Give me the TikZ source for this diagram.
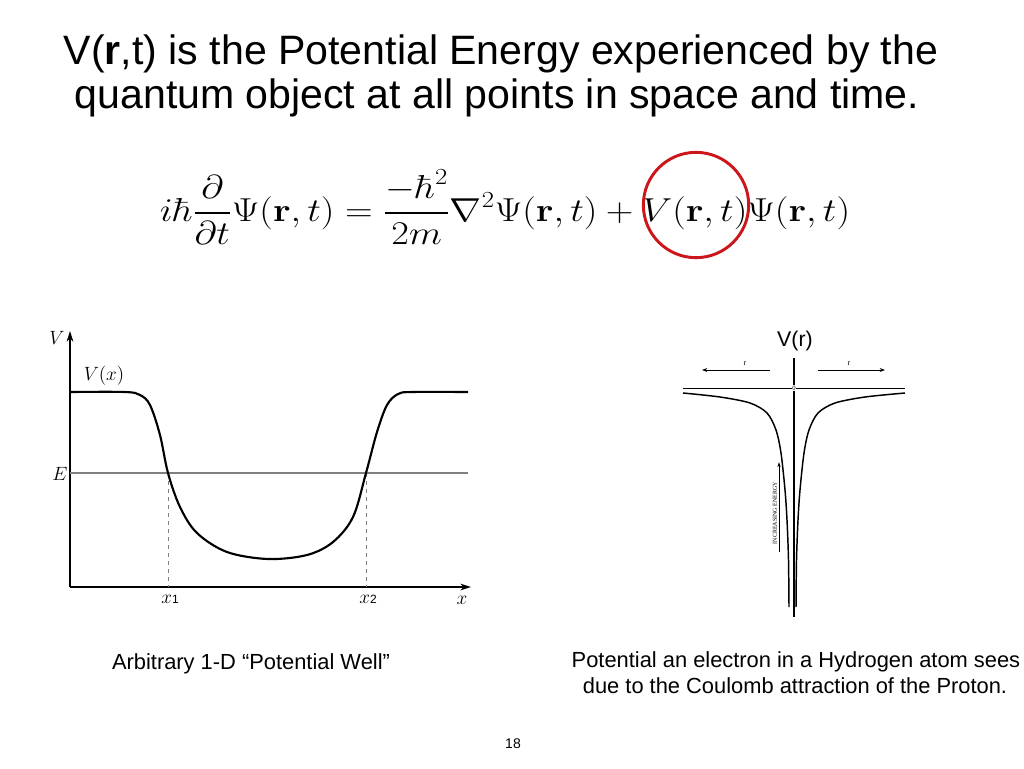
\documentclass[tikz,border=0pt]{standalone}
\usepackage[no-math]{fontspec}
\setmainfont{Liberation Sans}
\newfontfamily\serifsmall{Liberation Serif}
\usepackage{amsmath}
\usetikzlibrary{arrows.meta}
\DeclareMathSizes{33}{33}{19}{14}

\definecolor{ringred}{RGB}{204,22,28}

\begin{document}
\begin{tikzpicture}
[x=0.75pt, y=-0.75pt,
 every node/.style={inner sep=0pt},
 titletext/.style={font=\fontsize{30.8}{34}\selectfont, anchor=base},
 captiontext/.style={font=\fontsize{16.4}{19}\selectfont, anchor=base},
 axisline/.style={line width=1pt, -{Stealth[length=8pt,width=5pt]}},
 wellcurve/.style={line width=1.6pt, line join=round},
 plotlabel/.style={font=\fontsize{14}{16}\selectfont}]
\useasboundingbox (0,0) rectangle (1024,768);

% title and equation
\node (title1) [titletext] at (501,64) {V(\textbf{r},t) is the Potential Energy experienced by the};
\node (title2) [titletext] at (497,108) {quantum object at all points in space and time.};
\node (eq) at (505,207) {\scalebox{1.155}[1]{\fontsize{33}{36}\selectfont
  $\displaystyle i\hbar\frac{\partial}{\partial t}\Psi(\mathbf{r},t) = \frac{-\hbar^2}{2m}\nabla^2\Psi(\mathbf{r},t) + V(\mathbf{r},t)\Psi(\mathbf{r},t)$}};
\node (ring) [circle, draw=ringred, line width=2.2pt, minimum size=79pt] at (696,205) {};

% left: potential well
\coordinate (O) at (70,587);
\coordinate (Vtip) at (70,331);
\coordinate (Xtip) at (471,587);
\draw [axisline] (O) -- (Vtip);
\draw [axisline] (O) -- (Xtip);
\coordinate (E0) at (70,473);
\coordinate (E1) at (468,473);
\draw [line width=1pt, color=gray] (E0) -- (E1);
\coordinate (t1) at (168,473);
\coordinate (t2) at (366,473);
\draw [gray, dashed, line width=0.6pt] (t1) -- (t1 |- O);
\draw [gray, dashed, line width=0.6pt] (t2) -- (t2 |- O);
\draw [wellcurve] plot [smooth, tension=0.55] coordinates
  {(70,392) (125,392) (140,395) (150,405) (160,435) (168,473) (180,507) (197,533)
   (227,552) (268,559) (307,555) (333,542) (353,517) (366,473) (377,432) (387,405)
   (398,394) (412,392) (468,392)};
\node (Vlab) [plotlabel] at (57,338) {$V$};
\node (Vxlab) [plotlabel] at (104,376) {$V(x)$};
\node (Elab) [plotlabel] at (60,474) {$E$};
\node (x1lab) [plotlabel] at (170,599) {$x${\small 1}};
\node (x2lab) [plotlabel] at (368,599) {$x${\small 2}};
\node (xlab) [plotlabel] at (462,600) {$x$};

% right: Coulomb potential
\node (Vrlab) [font=\fontsize{16}{18}\selectfont] at (795,341) {V(r)};
\coordinate (A0) at (794,358);
\coordinate (A1) at (794,617);
\coordinate (H0) at (683,388);
\coordinate (H1) at (905,388);
\draw [line width=0.9pt] (A0) -- (A1);
\draw [line width=0.7pt] (H0) -- (H1);
\node (zero) [fill=white, font=\serifsmall\fontsize{5}{5}\selectfont, inner sep=0.3pt] at (794,388) {0};
\coordinate (rl0) at (770,370);
\coordinate (rl1) at (702,370);
\coordinate (rr0) at (818,370);
\coordinate (rr1) at (885,370);
\draw [line width=0.7pt, -{Stealth[length=4pt,width=3pt]}] (rl0) -- (rl1);
\draw [line width=0.7pt, -{Stealth[length=4pt,width=3pt]}] (rr0) -- (rr1);
\node (rlab1) [font=\serifsmall\fontsize{6}{6}\selectfont] at (745,364) {r};
\node (rlab2) [font=\serifsmall\fontsize{6}{6}\selectfont] at (849,364) {r};
\draw [line width=1.1pt] plot [smooth, tension=0.5] coordinates
  {(683,393) (720,397) (750,403) (767,413) (776,430) (781,453) (785,490) (787,520) (788.5,560) (789,607)};
\draw [line width=1.1pt] plot [smooth, tension=0.5] coordinates
  {(905,393) (865,397) (835,403) (818,413) (809,430) (804,453) (800,490) (798,520) (796.5,560) (796,607)};
\node (energy) [rotate=90, font=\serifsmall\fontsize{4.5}{5}\selectfont] at (775,513) {INCREASING ENERGY};
\coordinate (en0) at (779,552);
\coordinate (en1) at (779,462);
\draw [line width=0.6pt, -{Stealth[length=4pt,width=2.5pt]}] (en0) -- (en1);

% captions
\node (cap1) [captiontext] at (251,669) {Arbitrary 1-D “Potential Well”};
\node (cap2) [captiontext] at (796,667) {Potential an electron in a Hydrogen atom sees};
\node (cap3) [captiontext] at (795,693) {due to the Coulomb attraction of the Proton.};
\node (page) [font=\fontsize{10.5}{12}\selectfont] at (513,744) {18};
\end{tikzpicture}
\end{document}
